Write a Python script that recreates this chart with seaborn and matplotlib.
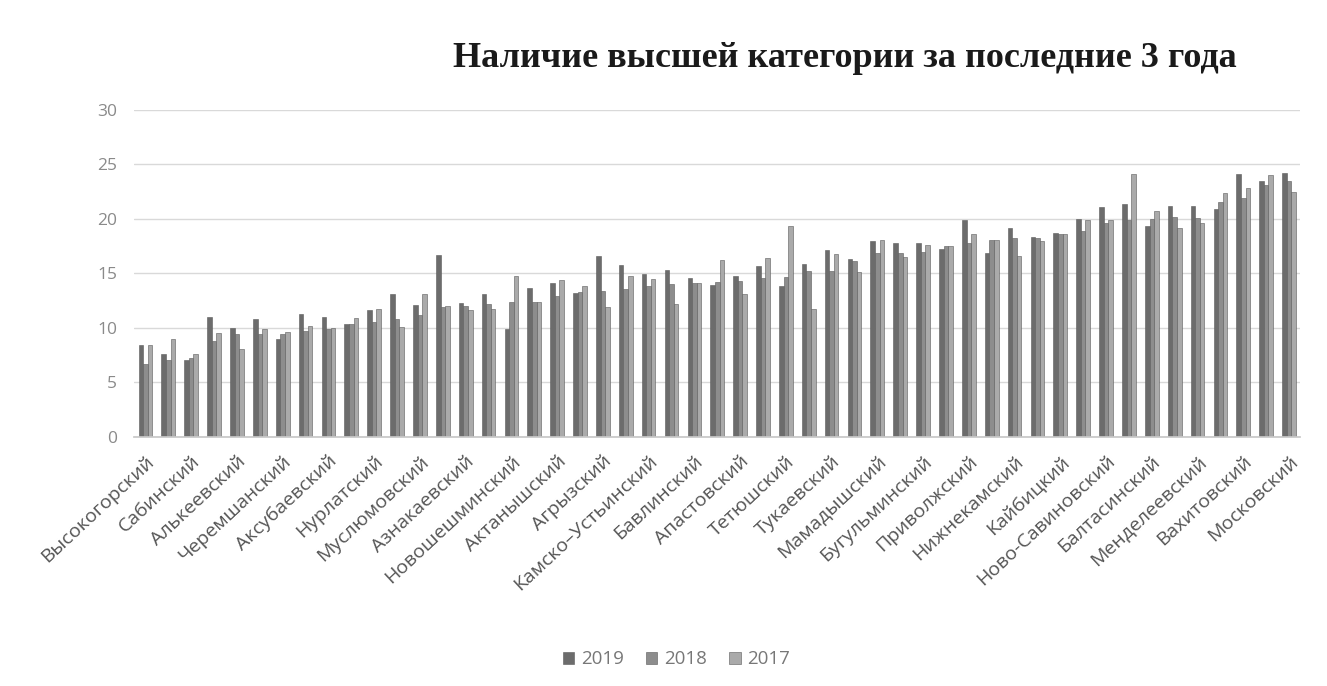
import numpy as np
import pandas as pd
import matplotlib
matplotlib.use("Agg")
import matplotlib.pyplot as plt
import seaborn as sns

# ---- data ----
tick_labels = ["Высокогорский", "Сабинский", "Алькеевский", "Черемшанский", "Аксубаевский",
               "Нурлатский", "Муслюмовский", "Азнакаевский", "Новошешминский", "Актанышский",
               "Агрызский", "Камско–Устьинский", "Бавлинский", "Апастовский", "Тетюшский",
               "Тукаевский", "Мамадышский", "Бугульминский", "Приволжский", "Нижнекамский",
               "Кайбицкий", "Ново-Савиновский", "Балтасинский", "Менделеевский", "Вахитовский",
               "Московский"]
years = ["2019", "2018", "2017"]
v2019 = [8.4, 7.6, 7.1, 11.0, 10.0, 10.8, 9.0, 11.3, 11.0, 10.4, 11.6, 13.1, 12.1, 16.7, 12.3,
         13.1, 9.9, 13.7, 14.1, 13.2, 16.6, 15.8, 14.9, 15.3, 14.6, 13.9, 14.8, 15.7, 13.8, 15.9,
         17.1, 16.3, 18.0, 17.8, 17.8, 17.2, 19.9, 16.9, 19.2, 18.3, 18.7, 20.0, 21.1, 21.4, 19.3,
         21.2, 21.2, 20.9, 24.1, 23.5, 24.2]
v2018 = [6.7, 7.1, 7.2, 8.8, 9.4, 9.4, 9.4, 9.7, 9.9, 10.4, 10.5, 10.8, 11.2, 11.9, 12.0,
         12.2, 12.4, 12.4, 12.9, 13.3, 13.4, 13.6, 13.8, 14.0, 14.1, 14.2, 14.3, 14.6, 14.7, 15.2,
         15.2, 16.1, 16.9, 16.9, 17.0, 17.5, 17.8, 18.1, 18.2, 18.2, 18.6, 18.9, 19.6, 19.9, 20.0,
         20.2, 20.1, 21.5, 21.9, 23.1, 23.5]
v2017 = [8.4, 9.0, 7.6, 9.5, 8.1, 9.9, 9.6, 10.2, 10.0, 10.9, 11.7, 10.1, 13.1, 12.0, 11.6,
         11.7, 14.8, 12.4, 14.4, 13.8, 11.9, 14.8, 14.5, 12.2, 14.1, 16.2, 13.1, 16.4, 19.3, 11.7,
         16.8, 15.1, 18.1, 16.5, 17.6, 17.5, 18.6, 18.1, 16.6, 18.0, 18.6, 19.9, 19.9, 24.1, 20.7,
         19.2, 19.6, 22.4, 22.8, 24.0, 22.5]
colors = ["#6c6c6c", "#8d8d8d", "#aaaaaa"]

n = len(v2019)
idx = list(range(n))
df = pd.DataFrame({
    "idx": idx * 3,
    "year": ["2019"] * n + ["2018"] * n + ["2017"] * n,
    "value": v2019 + v2018 + v2017,
})

sns.set_theme(style="white")
plt.rcParams["font.family"] = ["Open Sans", "DejaVu Sans"]

fig = plt.figure(figsize=(13.27, 6.86), dpi=100)
ax = fig.add_axes([0.101, 0.363, 0.879, 0.477])

sns.barplot(data=df, x="idx", y="value", hue="year", hue_order=years,
            palette=colors, width=0.6, gap=0, ax=ax, edgecolor="#5a5a5a",
            linewidth=0.4, saturation=1, legend=True)

ax.set_ylim(0, 30)
ax.set_xlim(-0.5, n - 0.5)
ax.set_yticks(range(0, 31, 5))
ax.yaxis.grid(True, color="#d9d9d9", linewidth=1)
ax.set_axisbelow(True)
for s in ["top", "right", "left"]:
    ax.spines[s].set_visible(False)
ax.spines["bottom"].set_color("#c8c8c8")
ax.tick_params(axis="y", length=0, labelsize=12.5, labelcolor="#8a8a8a", pad=12)
ax.tick_params(axis="x", length=0, pad=11)
ax.set_xticks(range(0, n, 2))
ax.set_xticklabels(tick_labels, rotation=43, ha="right", rotation_mode="anchor",
                   fontsize=14, color="#555555")
ax.set_xlabel("")
ax.set_ylabel("")

fig.text(0.637, 0.915, "Наличие высшей категории за последние 3 года",
         family=["Liberation Serif", "DejaVu Serif"], fontweight="bold",
         fontsize=26, color="#1a1a1a", ha="center", va="center")

leg = ax.legend(loc="center", bbox_to_anchor=(0.465, -0.68), ncol=3, frameon=False,
                fontsize=13.5, handlelength=0.6, handleheight=0.6, handletextpad=0.35,
                columnspacing=1.2)
for t in leg.get_texts():
    t.set_color("#777777")

fig.savefig("out.png", dpi=100)
